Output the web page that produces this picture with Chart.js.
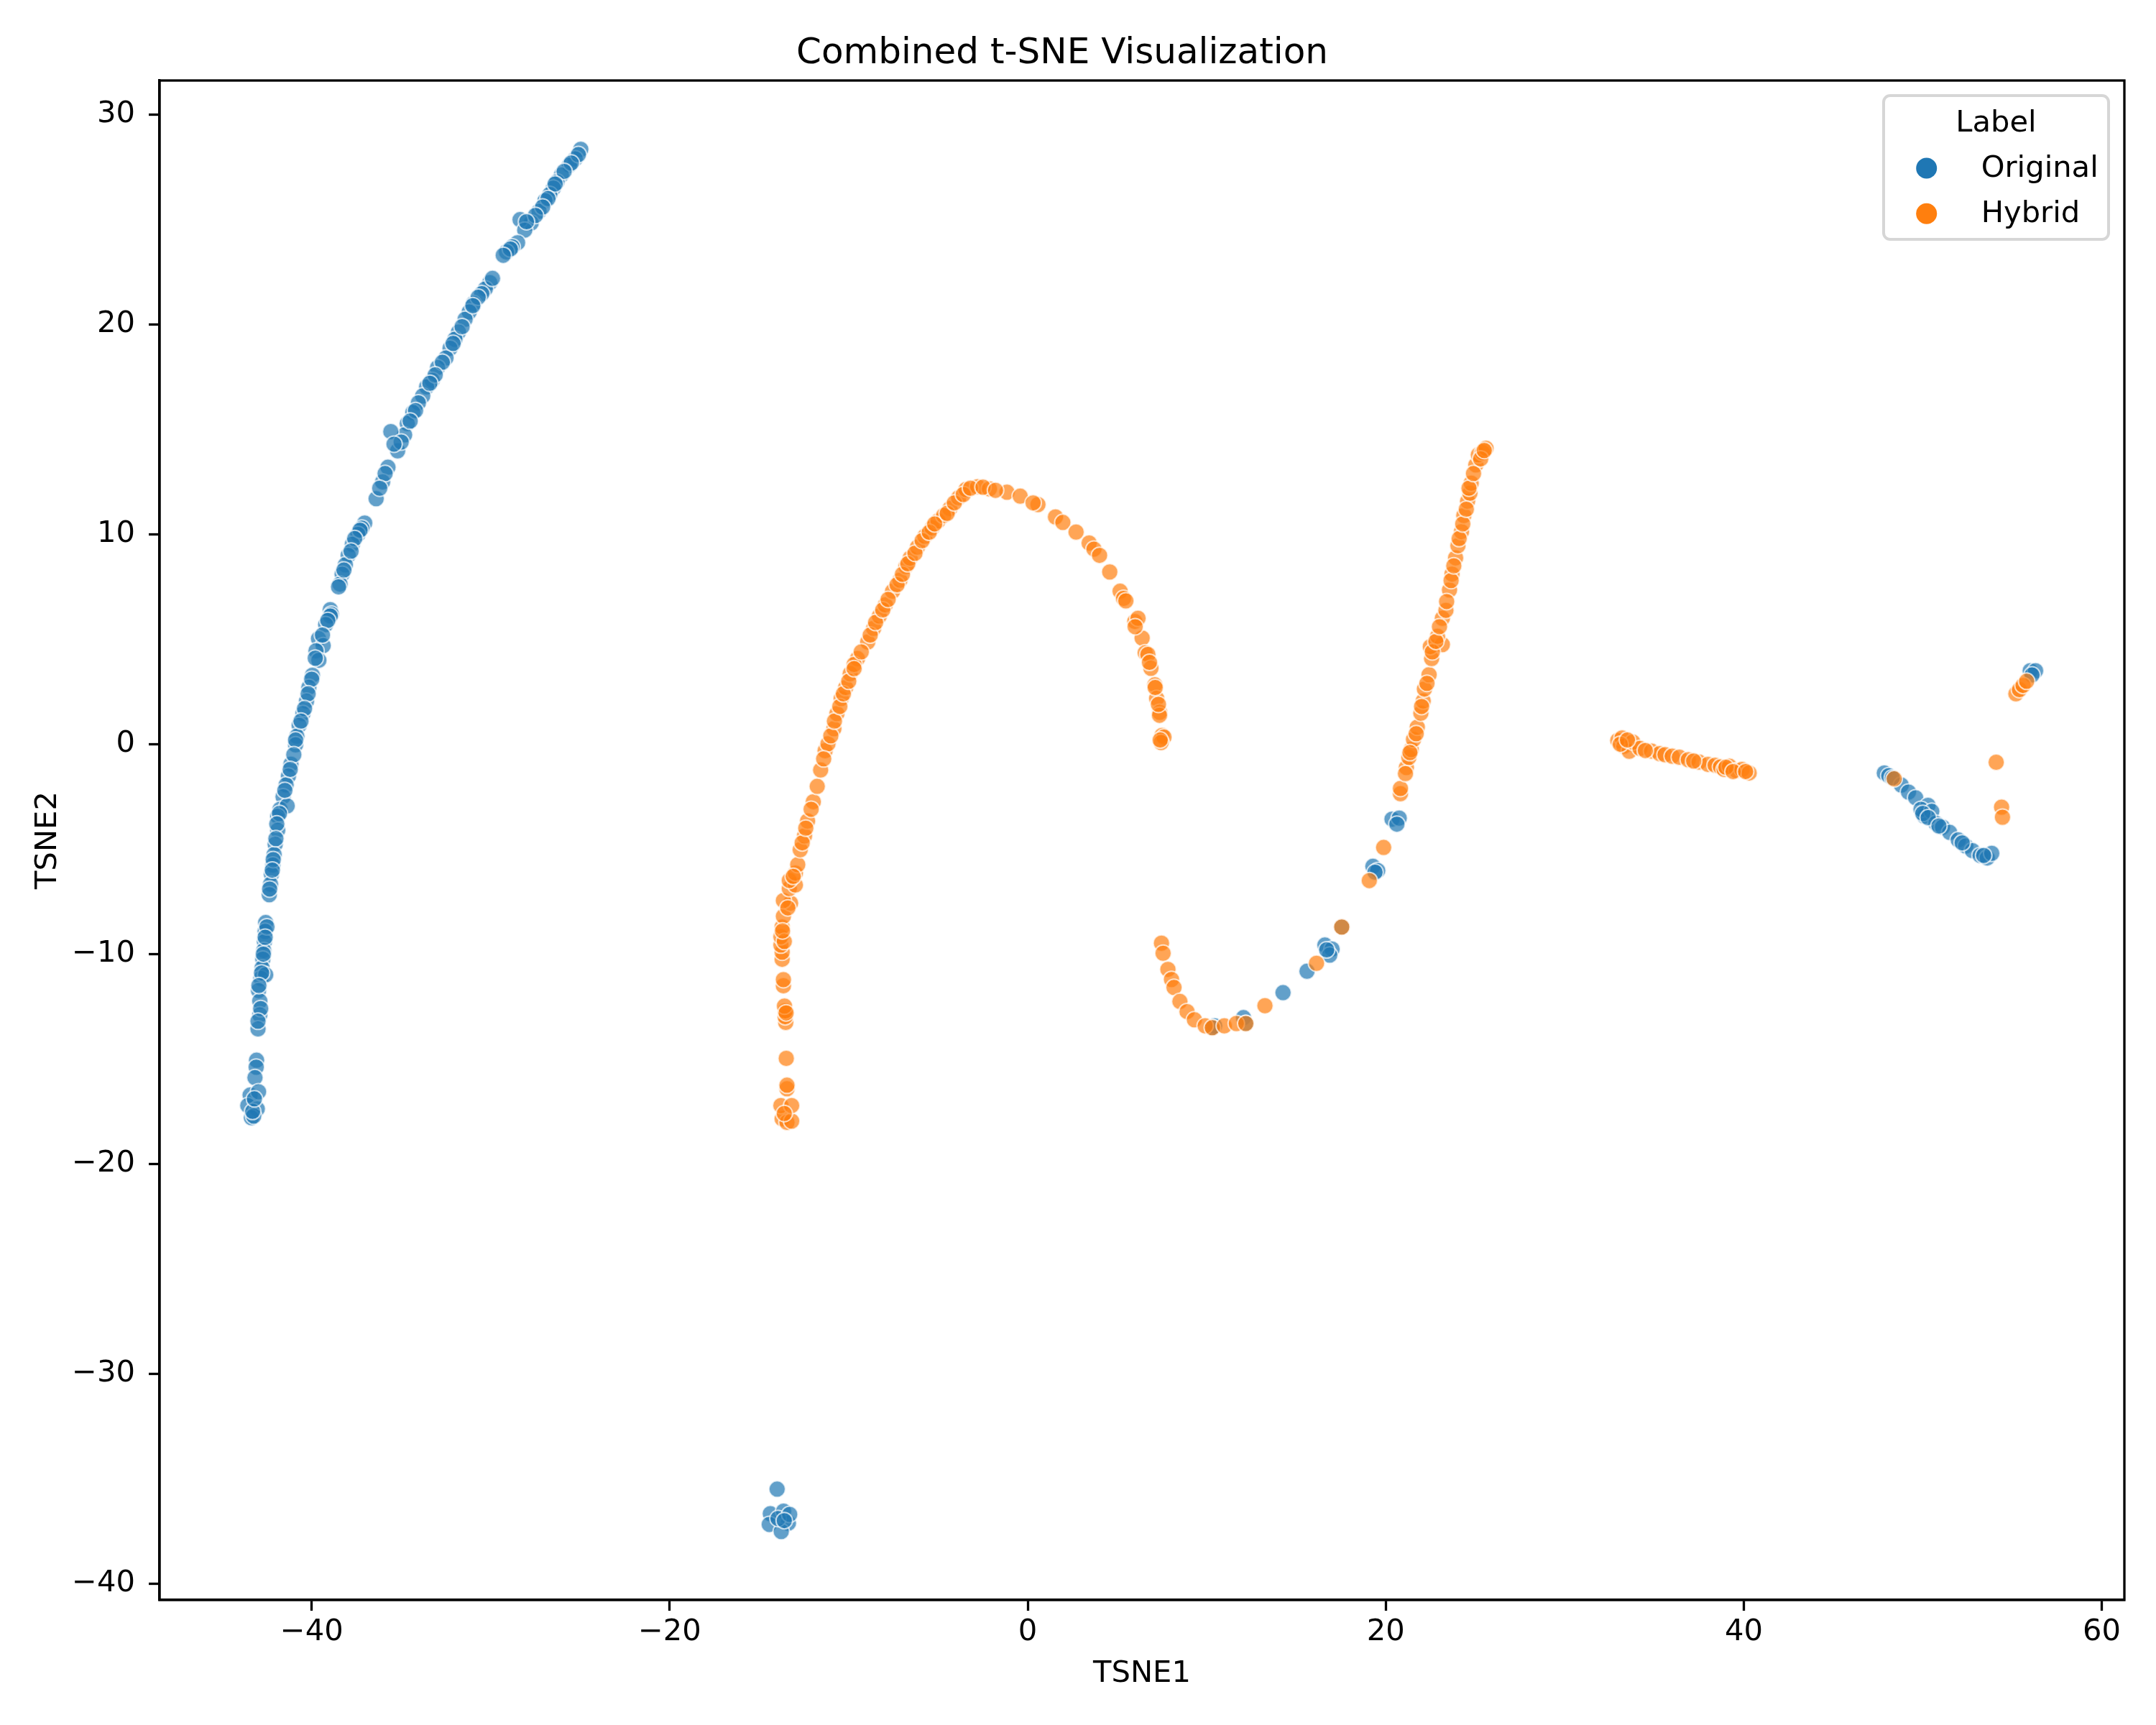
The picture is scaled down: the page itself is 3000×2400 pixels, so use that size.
<!DOCTYPE html>
<html>
<head>
<meta charset="utf-8">
<script src="https://cdn.jsdelivr.net/npm/chart.js@4.4.1/dist/chart.umd.min.js"></script>
<style>
  html, body { margin: 0; padding: 0; background: #fff; }
  #wrap { width: 3000px; height: 2400px; }
</style>
</head>
<body>
<div id="wrap"><canvas id="myChart" width="3000" height="2400"></canvas></div>
<script>
// t-SNE coordinates
var originalX = [
  -24.97, -25.28, -25.6, -26.05, -26.3, -26.5, -26.7, -26.97, -27.3, -27.74, -28.36, -28.1, -28.5, -28.8, -29.12,
  -30.05, -30.3, -30.5, -30.97, -31.2, -31.43, -31.8, -32.0, -32.27, -32.5, -32.97, -33.27, -33.58, -33.8, -34.04,
  -34.35, -34.66, -34.81, -35.58, -35.2, -35.0, -35.74, -36.04, -36.4, -37.04, -37.2, -37.42, -37.73, -37.96, -38.12,
  -38.3, -38.42, -38.96,
  -25.1, -25.5, -25.9, -26.4, -26.8, -27.1, -27.5, -28.0, -28.9, -29.3, -29.9, -30.7, -31.0, -31.6, -32.1,
  -32.7, -33.1, -33.4, -34.2, -34.5, -35.4, -35.9, -36.2, -37.3, -37.6, -37.8, -38.2, -38.5, -38.9,
  -38.96, -39.22, -39.62, -39.36, -39.76, -39.6, -39.96, -40.16, -40.29, -40.49, -40.7, -40.83, -40.9, -41.16, -41.3,
  -41.43, -41.6, -41.77, -41.37, -41.9, -41.9, -42.04, -42.1, -42.17, -42.25, -42.3, -42.37, -42.57, -42.6, -42.64,
  -42.68, -42.73, -42.77, -42.84, -42.57, -42.97, -42.9, -42.9, -43.0, -43.08, -43.1, -43.17, -43.44, -42.97, -43.57,
  -43.04, -43.37, -43.24,
  -39.1, -39.4, -39.8, -40.0, -40.2, -40.4, -40.6, -40.9, -41.0, -41.2, -41.5, -41.8, -41.95, -42.0, -42.15,
  -42.2, -42.35, -42.5, -42.6, -42.7, -42.8, -42.95, -42.85, -43.0, -43.3, -43.2,
  -14.0, -14.38, -13.64, -13.37, -14.44, -13.77, -13.95, -13.3, -13.6,
  10.44, 10.31, 12.05, 12.18, 14.26, 15.6, 16.6, 17.0, 16.87, 16.7, 17.54, 19.28, 19.55, 19.4, 20.35, 20.75, 20.62,
  47.85, 48.1, 48.4, 48.8, 49.2, 49.6, 50.29, 50.08, 49.9, 50.5, 50.73, 51.1, 51.5, 51.98, 52.4, 52.77, 53.2, 53.6, 53.85,
  48.3, 50.0, 50.3, 50.9, 52.2, 53.4,
  56.0, 56.3, 56.1
];
var originalY = [
  28.35, 27.9, 27.6, 27.13, 26.8, 26.5, 26.2, 25.9, 25.4, 24.84, 25.0, 24.5, 23.9, 23.7, 23.46,
  22.0, 21.7, 21.47, 21.0, 20.6, 20.25, 19.64, 19.3, 18.87, 18.41, 17.95, 17.34, 17.03, 16.6, 16.27,
  15.81, 15.28, 14.74, 14.9, 13.98, 14.4, 13.2, 12.5, 11.7, 10.54, 10.3, 10.0, 9.53, 9.0, 8.55,
  8.1, 7.63, 6.41,
  28.1, 27.7, 27.3, 26.7, 26.0, 25.6, 25.2, 24.9, 23.6, 23.3, 22.2, 21.3, 20.9, 19.9, 19.1,
  18.2, 17.6, 17.2, 15.9, 15.4, 14.3, 12.9, 12.2, 10.2, 9.8, 9.2, 8.3, 7.5, 6.2,
  6.11, 5.7, 5.03, 4.7, 4.45, 4.0, 3.29, 2.71, 2.05, 1.46, 0.9, 0.38, -0.03, -0.95, -1.52,
  -1.94, -2.5, -3.1, -2.94, -3.44, -4.1, -4.77, -5.26, -5.76, -6.2, -6.67, -7.17, -8.5, -8.92, -9.41,
  -9.83, -10.24, -10.66, -11.16, -10.99, -11.74, -12.24, -12.9, -13.57, -15.06, -15.39, -15.89, -16.72, -16.56, -17.22,
  -17.38, -17.8, -17.72,
  5.9, 5.2, 4.1, 3.1, 2.4, 1.7, 1.1, 0.2, -0.5, -1.2, -2.2, -3.3, -3.8, -4.5, -5.5,
  -6.0, -6.9, -8.7, -9.2, -10.0, -10.9, -11.5, -12.6, -13.2, -17.5, -16.9,
  -35.5, -36.67, -36.55, -37.12, -37.18, -37.52, -36.9, -36.7, -37.0,
  -13.42, -13.51, -13.03, -13.31, -11.84, -10.82, -9.57, -9.76, -10.05, -9.8, -8.71, -5.82, -6.02, -6.1, -3.57, -3.52, -3.81,
  -1.37, -1.5, -1.65, -1.95, -2.28, -2.55, -2.91, -3.42, -3.1, -3.2, -3.77, -3.95, -4.2, -4.56, -4.85, -5.07, -5.3, -5.42, -5.2,
  -1.6, -3.3, -3.5, -3.9, -4.7, -5.3,
  3.5, 3.5, 3.3
];
var hybridX = [
  -13.72, -13.45, -13.19, -13.79, -13.19, -13.45, -13.45, -13.49, -13.52, -13.55, -13.55, -13.59, -13.65, -13.65,
  -13.72, -13.72, -13.79, -13.79, -13.72, -13.65, -13.25, -13.65, -13.32, -12.98, -13.32, -12.98, -12.85,
  -12.71, -12.47, -12.3, -11.98, -11.76, -11.57, -11.32, -11.16, -10.83, -10.66, -10.42, -10.17, -9.92, -9.51, -9.7,
  -8.94, -8.61, -8.29, -7.96, -7.55, -7.14, -6.81, -6.57, -6.16, -5.75, -5.34, -5.01, -4.35, -4.7, -3.86, -3.45,
  -2.8, -2.14, -1.16, -0.42, 0.57, 0.3, 1.55, 1.96, 2.7, 3.43, 3.7, 4.01, 4.58, 5.16, 5.35, 5.48, 5.98, 6.16,
  6.39, 6.56, 6.71, 6.88, 7.1, 7.2, 7.12, 7.37, 7.36, 7.5, 7.61, 7.45,
  -13.6, -13.5, -13.6, -13.7, -13.4, -13.1, -12.6, -12.4, -12.1, -11.4, -11.0, -10.8, -10.5, -10.3, -10.0, -9.7,
  -9.3, -8.8, -8.5, -8.1, -7.8, -7.3, -7.0, -6.7, -6.3, -5.9, -5.5, -5.2, -4.5, -4.1, -3.6, -3.2, -2.5, -1.8,
  6.0, 6.8, 7.3, 7.4,
  7.47, 7.56, 7.83, 8.03, 8.17, 8.5, 8.9, 9.31, 9.91, 10.31, 10.98, 11.65, 12.18, 13.25, 16.13, 17.54, 19.08,
  19.88, 20.82, 20.82, 21.15, 21.29, 21.42, 21.55, 21.76, 21.96, 22.09, 22.16, 22.42, 22.56, 22.49, 23.16, 22.89,
  23.16, 23.36, 23.56, 23.7, 23.9, 24.03, 24.23, 24.36, 24.57, 24.7, 24.77, 25.03, 25.17, 25.4, 25.6,
  21.1, 21.35, 21.7, 22.0, 22.3, 22.6, 22.8, 23.0, 23.4, 23.65, 23.8, 24.1, 24.3, 24.5, 24.65, 24.9, 25.3, 25.5,
  32.96, 33.2, 33.3, 33.6, 33.8, 34.2, 34.85, 35.3, 35.6, 36.0, 36.4, 36.9, 37.5, 38.0, 38.4, 38.7, 38.9, 39.2,
  39.6, 39.9, 40.3, 33.1, 33.5, 34.5, 37.2, 39.0, 39.4, 40.1,
  48.4, 54.1, 54.4, 54.45, 55.2, 55.4, 55.6, 55.8
];
var hybridY = [
  -17.85, -18.02, -17.96, -17.22, -17.22, -16.42, -16.25, -14.97, -13.26, -12.99, -12.71, -12.48, -11.51, -11.22,
  -10.25, -9.91, -9.57, -9.17, -8.71, -8.2, -7.57, -7.45, -6.88, -6.71, -6.49, -6.14, -5.74,
  -5.03, -4.37, -3.66, -2.74, -2.01, -1.23, -0.31, 0.02, 0.74, 1.46, 2.18, 2.7, 3.36, 4.08, 3.8,
  4.87, 5.52, 6.11, 6.64, 7.29, 7.82, 8.47, 8.87, 9.39, 9.91, 10.31, 10.64, 11.23, 10.9, 11.75, 12.14,
  12.27, 12.17, 12.01, 11.82, 11.42, 11.5, 10.83, 10.57, 10.11, 9.59, 9.3, 9.0, 8.21, 7.29, 6.95, 6.83, 5.85, 6.0,
  5.06, 4.36, 4.28, 3.62, 2.83, 2.18, 2.7, 1.52, 1.38, 0.42, 0.34, 0.08,
  -17.6, -12.8, -9.4, -8.9, -7.8, -6.3, -4.7, -4.0, -3.1, -0.7, 0.4, 1.1, 1.8, 2.4, 3.0, 3.6,
  4.4, 5.2, 5.8, 6.4, 6.9, 7.6, 8.1, 8.6, 9.1, 9.7, 10.1, 10.5, 11.0, 11.5, 11.9, 12.2, 12.25, 12.1,
  5.6, 3.9, 1.9, 0.2,
  -9.48, -9.96, -10.73, -11.21, -11.59, -12.26, -12.74, -13.13, -13.42, -13.51, -13.42, -13.31, -13.31, -12.46, -10.44, -8.71, -6.5,
  -4.92, -2.36, -2.11, -1.11, -0.63, -0.25, 0.23, 0.81, 1.48, 2.06, 2.63, 3.31, 4.08, 4.65, 4.75, 5.14,
  6.0, 6.38, 7.35, 8.11, 8.88, 9.46, 10.13, 10.9, 11.58, 11.96, 12.44, 13.31, 13.79, 13.9, 14.1,
  -1.4, -0.4, 0.5, 1.8, 2.9, 4.4, 4.9, 5.6, 6.8, 7.8, 8.5, 9.8, 10.5, 11.2, 12.2, 12.9, 13.6, 14.0,
  0.18, 0.3, -0.1, -0.34, 0.1, -0.2, -0.33, -0.45, -0.5, -0.57, -0.62, -0.74, -0.85, -0.96, -1.0, -1.08, -1.2, -1.05,
  -1.26, -1.2, -1.37, 0.0, 0.2, -0.3, -0.8, -1.1, -1.3, -1.3,
  -1.65, -0.86, -3.0, -3.48, 2.4, 2.6, 2.8, 3.0
];
var seriesLabels = ["Original", "Hybrid"];
var xTicks = [-40, -20, 0, 20, 40, 60];
var yTicks = [-40, -30, -20, -10, 0, 10, 20, 30];

var BLUE = "31,119,180";
var ORANGE = "255,127,14";

function toPoints(xs, ys) {
    return xs.map(function(x, i) { return {x: x, y: ys[i]}; });
}
function minusSign(v) {
    return String(v).replace("-", "\u2212");
}

Chart.defaults.font.family = "'DejaVu Sans', sans-serif";
Chart.defaults.color = "#000";

// top/right spines and the in-axes legend, like matplotlib draws them
var framePlugin = {
    id: "frame",
    afterDatasetsDraw: function(chart) {
        var a = chart.chartArea, c = chart.ctx;
        c.save();
        c.strokeStyle = "#000";
        c.lineWidth = 3.3;
        c.strokeRect(a.left, a.top, a.right - a.left, a.bottom - a.top);
        c.restore();
    },
    afterDraw: function(chart) {
        var c = chart.ctx;
        var bx = 2621, by = 133, bw = 313, bh = 200, r = 9;
        c.save();
        c.beginPath();
        c.roundRect(bx, by, bw, bh, r);
        c.fillStyle = "rgba(255,255,255,0.8)";
        c.fill();
        c.lineWidth = 4;
        c.strokeStyle = "rgba(204,204,204,0.8)";
        c.stroke();
        c.fillStyle = "#000";
        c.font = "41.67px 'DejaVu Sans'";
        c.textBaseline = "alphabetic";
        c.textAlign = "center";
        c.fillText("Label", 2777.5, 183);
        c.textAlign = "left";
        var colors = [BLUE, ORANGE];
        var ys = [234, 297.3];
        for (var i = 0; i < seriesLabels.length; i++) {
            c.beginPath();
            c.arc(2680.7, ys[i], 14.5, 0, Math.PI * 2);
            c.fillStyle = "rgb(" + colors[i] + ")";
            c.fill();
            c.fillStyle = "#000";
            c.fillText(seriesLabels[i], 2756.7, ys[i] + 11.5);
        }
        c.restore();
    }
};

window.onload = function() {
    var ctx = document.getElementById("myChart").getContext("2d");

    window.myScatter = new Chart(ctx, {
        type: "scatter",
        data: {
            datasets: [
                {
                    label: seriesLabels[0],
                    data: toPoints(originalX, originalY),
                    backgroundColor: "rgba(" + BLUE + ",0.7)",
                    borderColor: "rgba(255,255,255,0.7)",
                    borderWidth: 2,
                    pointRadius: 11.5,
                    pointHoverRadius: 11.5,
                    order: 1
                },
                {
                    label: seriesLabels[1],
                    data: toPoints(hybridX, hybridY),
                    backgroundColor: "rgba(" + ORANGE + ",0.7)",
                    borderColor: "rgba(255,255,255,0.7)",
                    borderWidth: 2,
                    pointRadius: 11.5,
                    pointHoverRadius: 11.5,
                    order: 0
                }
            ]
        },
        options: {
            responsive: false,
            animation: false,
            devicePixelRatio: 1,
            layout: { padding: { left: 0, right: 44, top: 0, bottom: 0 } },
            plugins: {
                legend: { display: false },
                tooltip: { enabled: false },
                title: {
                    display: true,
                    text: "Combined t-SNE Visualization",
                    font: { size: 50, weight: "normal" },
                    padding: { top: 45, bottom: 7 }
                }
            },
            scales: {
                x: {
                    type: "linear",
                    position: "bottom",
                    min: -48.5,
                    max: 61.26,
                    afterFit: function(s) { s.height = 174; },
                    afterBuildTicks: function(s) { s.ticks = xTicks.map(function(v) { return {value: v}; }); },
                    grid: { drawOnChartArea: false, tickLength: 15, tickWidth: 3.3, tickColor: "#000" },
                    border: { color: "#000", width: 3.3 },
                    ticks: { font: { size: 41.67 }, padding: 5.5, maxRotation: 0, callback: minusSign },
                    title: { display: true, text: "TSNE1", font: { size: 41.67 }, padding: { top: 0, bottom: 46 } }
                },
                y: {
                    type: "linear",
                    position: "left",
                    min: -40.78,
                    max: 31.63,
                    afterFit: function(s) { s.width = 222; },
                    afterBuildTicks: function(s) { s.ticks = yTicks.map(function(v) { return {value: v}; }); },
                    grid: { drawOnChartArea: false, tickLength: 15, tickWidth: 3.3, tickColor: "#000" },
                    border: { color: "#000", width: 3.3 },
                    ticks: { font: { size: 41.67 }, padding: 19, callback: minusSign },
                    title: { display: true, text: "TSNE2", font: { size: 41.67 }, padding: { top: 42, bottom: 0 } }
                }
            }
        },
        plugins: [framePlugin]
    });
};
</script>
</body>
</html>
